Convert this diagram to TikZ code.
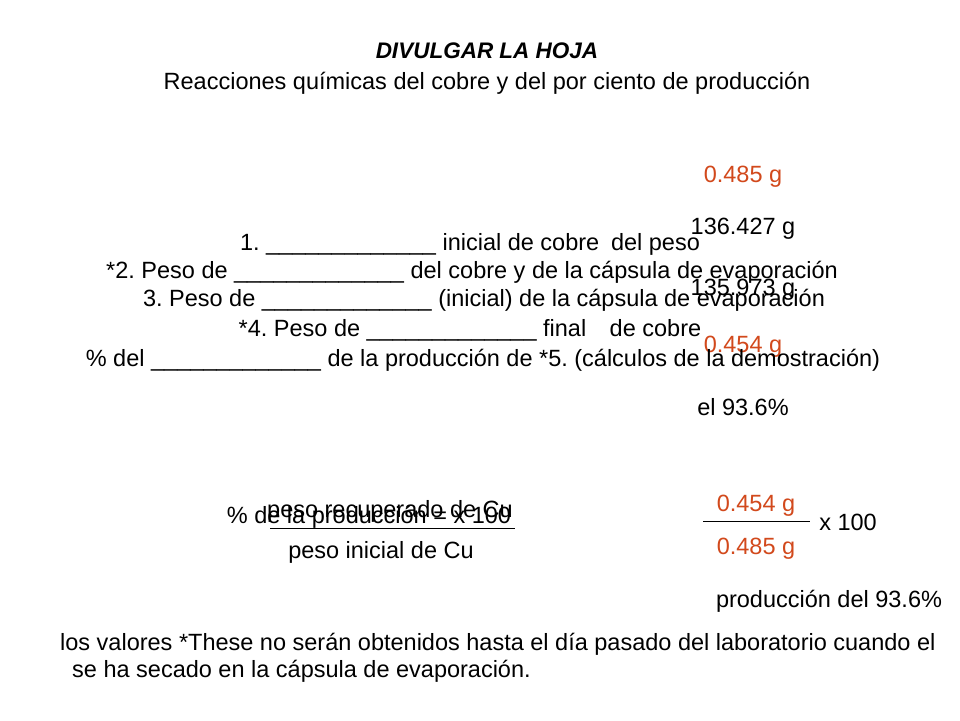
\documentclass[tikz,border=0pt]{standalone}
\usepackage{fontspec}
\setmainfont{Liberation Sans}
\definecolor{org}{HTML}{D2491C}
\frenchspacing
\begin{document}
\begin{tikzpicture}[x=1pt,y=-1pt,
  t/.style={inner sep=0pt,font=\fontsize{23.5}{26}\selectfont},
  o/.style={t,text=org}]
\useasboundingbox (0,0) rectangle (960,720);
\fill[white] (0,0) rectangle (960,720);
\node[t,font=\fontsize{22.5}{26}\selectfont\bfseries\itshape] (h) at (487,51) {DIVULGAR LA HOJA};
\node[t] (s) at (487,83) {Reacciones químicas del cobre y del por ciento de producción};
\node[o] (v1) at (743,177) {0.485 g};
\node[t] (v2) at (743,229) {136.427 g};
\node[t] (l1) at (470,244) {1. \_\_\_\_\_\_\_\_\_\_\_\_\_ inicial de cobre\enspace del peso};
\node[t] (l2) at (472,272) {*2. Peso de \_\_\_\_\_\_\_\_\_\_\_\_\_ del cobre y de la cápsula de evaporación};
\node[t] (v3) at (743,290) {135.973 g};
\node[t] (l3) at (484,300) {3. Peso de \_\_\_\_\_\_\_\_\_\_\_\_\_ (inicial) de la cápsula de evaporación};
\node[t] (l4) at (470,330) {*4. Peso de \_\_\_\_\_\_\_\_\_\_\_\_\_ final\quad de cobre};
\node[o] (v4) at (743,347) {0.454 g};
\node[t] (l5) at (483,360) {\% del \_\_\_\_\_\_\_\_\_\_\_\_\_ de la producción de *5. (cálculos de la demostración)};
\node[t] (v5) at (743,407) {el 93.6\%};
\node[t] (n) at (390,511) {peso recuperado de Cu};
\node[t] (f) at (369,517) {\% de la producción = x 100};
\coordinate (fa) at (270,528); \coordinate (fb) at (515,528);
\draw[line width=0.6pt] (fa) -- (fb);
\node[t] (d) at (381,552) {peso inicial de Cu};
\node[o] (n2) at (756,506) {0.454 g};
\coordinate (ga) at (703,521); \coordinate (gb) at (810,521);
\draw[line width=1pt] (ga) -- (gb);
\node[t] (x) at (848,522) {x 100};
\node[o] (d2) at (756,549) {0.485 g};
\node[t] (r) at (829,601) {producción del 93.6\%};
\node[t,anchor=west] (p1) at (60,644) {los valores *These no serán obtenidos hasta el día pasado del laboratorio cuando el};
\node[t,anchor=west] (p2) at (72,671) {se ha secado en la cápsula de evaporación.};
\end{tikzpicture}
\end{document}
